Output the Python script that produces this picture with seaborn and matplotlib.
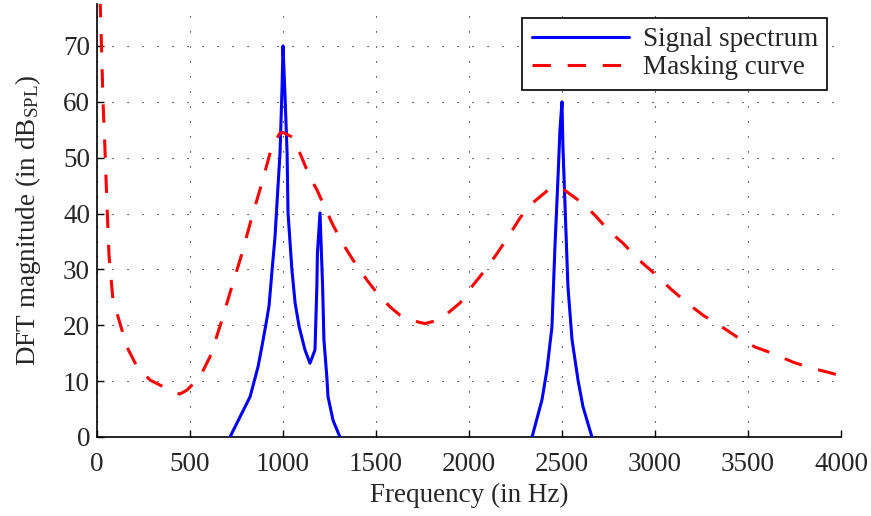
import matplotlib
matplotlib.use("Agg")
import matplotlib.pyplot as plt
import seaborn as sns
import pandas as pd

# ---- data ----
sig1_freq = [715, 769, 823, 866, 886, 910, 925, 940, 957, 973, 984, 995, 1000, 1011, 1022,
             1027, 1048, 1065, 1087, 1118, 1145, 1172, 1182, 1185, 1199, 1213, 1220, 1236,
             1242, 1269, 1306]
sig1_db = [0, 3.6, 7.2, 12.6, 16.1, 20.5, 23.5, 29.4, 35.8, 44.8, 50.8, 62.7, 70, 60.9, 50.8,
           40.1, 29.9, 24.0, 19.7, 15.6, 13.2, 15.6, 26.9, 32.9, 40.1, 26.9, 17.4, 10.6,
           7.2, 3.0, 0]

sig2_freq = [2339, 2392, 2419, 2446, 2462, 2478, 2489, 2500, 2505, 2521, 2532, 2554, 2586, 2613, 2661]
sig2_db = [0, 6.6, 12.0, 19.7, 34.0, 46.0, 55.0, 60, 52, 37, 26.9, 17.4, 10.2, 5.4, 0]

mask_freq = [15, 25, 32, 43, 54, 65, 86, 107, 161, 215, 285, 409, 446, 484, 554, 608, 661,
             715, 780, 833, 887, 940, 984, 1000, 1048, 1091, 1145, 1183, 1226, 1269, 1333,
             1376, 1451, 1505, 1575, 1629, 1700, 1763, 1844, 1952, 2022, 2097, 2156, 2210,
             2274, 2328, 2425, 2480, 2505, 2608, 2677, 2758, 2828, 2903, 2989, 3091, 3188,
             3258, 3360, 3441, 3538, 3629, 3742, 3833, 3941, 4000]
mask_db = [80, 69, 60.3, 51.4, 41.2, 32.3, 24.5, 22.2, 16.1, 12.6, 10.2, 8.1, 7.7, 8.4, 10.8,
           14.4, 19.8, 25.8, 32.9, 39.4, 45.5, 52, 54.4, 54.5, 53.7, 50.8, 46.5, 44.2, 41.0,
           37.9, 34.0, 31.7, 28.1, 25.8, 23.3, 21.8, 20.8, 20.3, 21.0, 24.0, 27.2, 30.3,
           33.1, 35.8, 39.2, 41.5, 44.2, 44.6, 44.4, 41.9, 39.7, 36.7, 34.7, 32.0, 29.5,
           26.3, 23.6, 21.8, 19.7, 17.9, 16.1, 15.0, 13.4, 12.4, 11.5, 10.9]

x_ticks = [0, 500, 1000, 1500, 2000, 2500, 3000, 3500, 4000]
y_ticks = [0, 10, 20, 30, 40, 50, 60, 70]

# ---- style ----
sns.set_style("ticks")
plt.rcParams["font.family"] = ["Liberation Serif", "DejaVu Serif"]
plt.rcParams["mathtext.fontset"] = "custom"
plt.rcParams["mathtext.rm"] = "Liberation Serif"
plt.rcParams["mathtext.it"] = "Liberation Serif:italic"

FS = 19.5

fig = plt.figure(figsize=(8.71, 5.16), dpi=100)
ax = fig.add_axes([97 / 871, 1 - 437 / 516, (841 - 97) / 871, (437 - 4) / 516])

df1 = pd.DataFrame({"f": sig1_freq, "db": sig1_db})
df2 = pd.DataFrame({"f": sig2_freq, "db": sig2_db})
dm = pd.DataFrame({"f": mask_freq, "db": mask_db})

lw = 2.2
sns.lineplot(data=df1, x="f", y="db", ax=ax, color="#0000ff", lw=lw,
             estimator=None, sort=False, label="Signal spectrum", zorder=3)
sns.lineplot(data=df2, x="f", y="db", ax=ax, color="#0000ff", lw=lw,
             estimator=None, sort=False, legend=False, zorder=3)
sns.lineplot(data=dm, x="f", y="db", ax=ax, color="#ff0000", lw=lw,
             estimator=None, sort=False, label="Masking curve", zorder=3,
             dashes=False)
ax.lines[-1].set_dashes((6, 5.5))

ax.set_xlim(0, 4000)
ax.set_ylim(0, 77.5)
ax.set_xticks(x_ticks)
ax.set_yticks(y_ticks)
ax.tick_params(direction="in", length=5, width=1, labelsize=FS, color="black")
ax.tick_params(axis="x", pad=11)
ax.tick_params(axis="y", pad=5)

ax.grid(True, color="black", linestyle=(0, (1, 12.5)), linewidth=0.8)
ax.set_axisbelow(True)
for s in ["top", "right"]:
    ax.spines[s].set_visible(False)
for s in ["left", "bottom"]:
    ax.spines[s].set_color("black")
    ax.spines[s].set_linewidth(1.2)

ax.set_xlabel("Frequency (in Hz)", fontsize=FS, labelpad=4)
ax.set_ylabel(r"DFT magnitude (in dB$_{\mathrm{SPL}}$)", fontsize=FS, labelpad=14)

leg = ax.legend(loc="upper right", fontsize=FS, frameon=True, fancybox=False,
                handlelength=3.6, handletextpad=0.5, borderpad=0.35,
                labelspacing=0.12, borderaxespad=0.5)
leg.get_frame().set_edgecolor("black")
leg.get_frame().set_linewidth(1.2)
leg.get_frame().set_alpha(1)

fig.savefig("out.png", dpi=100)
